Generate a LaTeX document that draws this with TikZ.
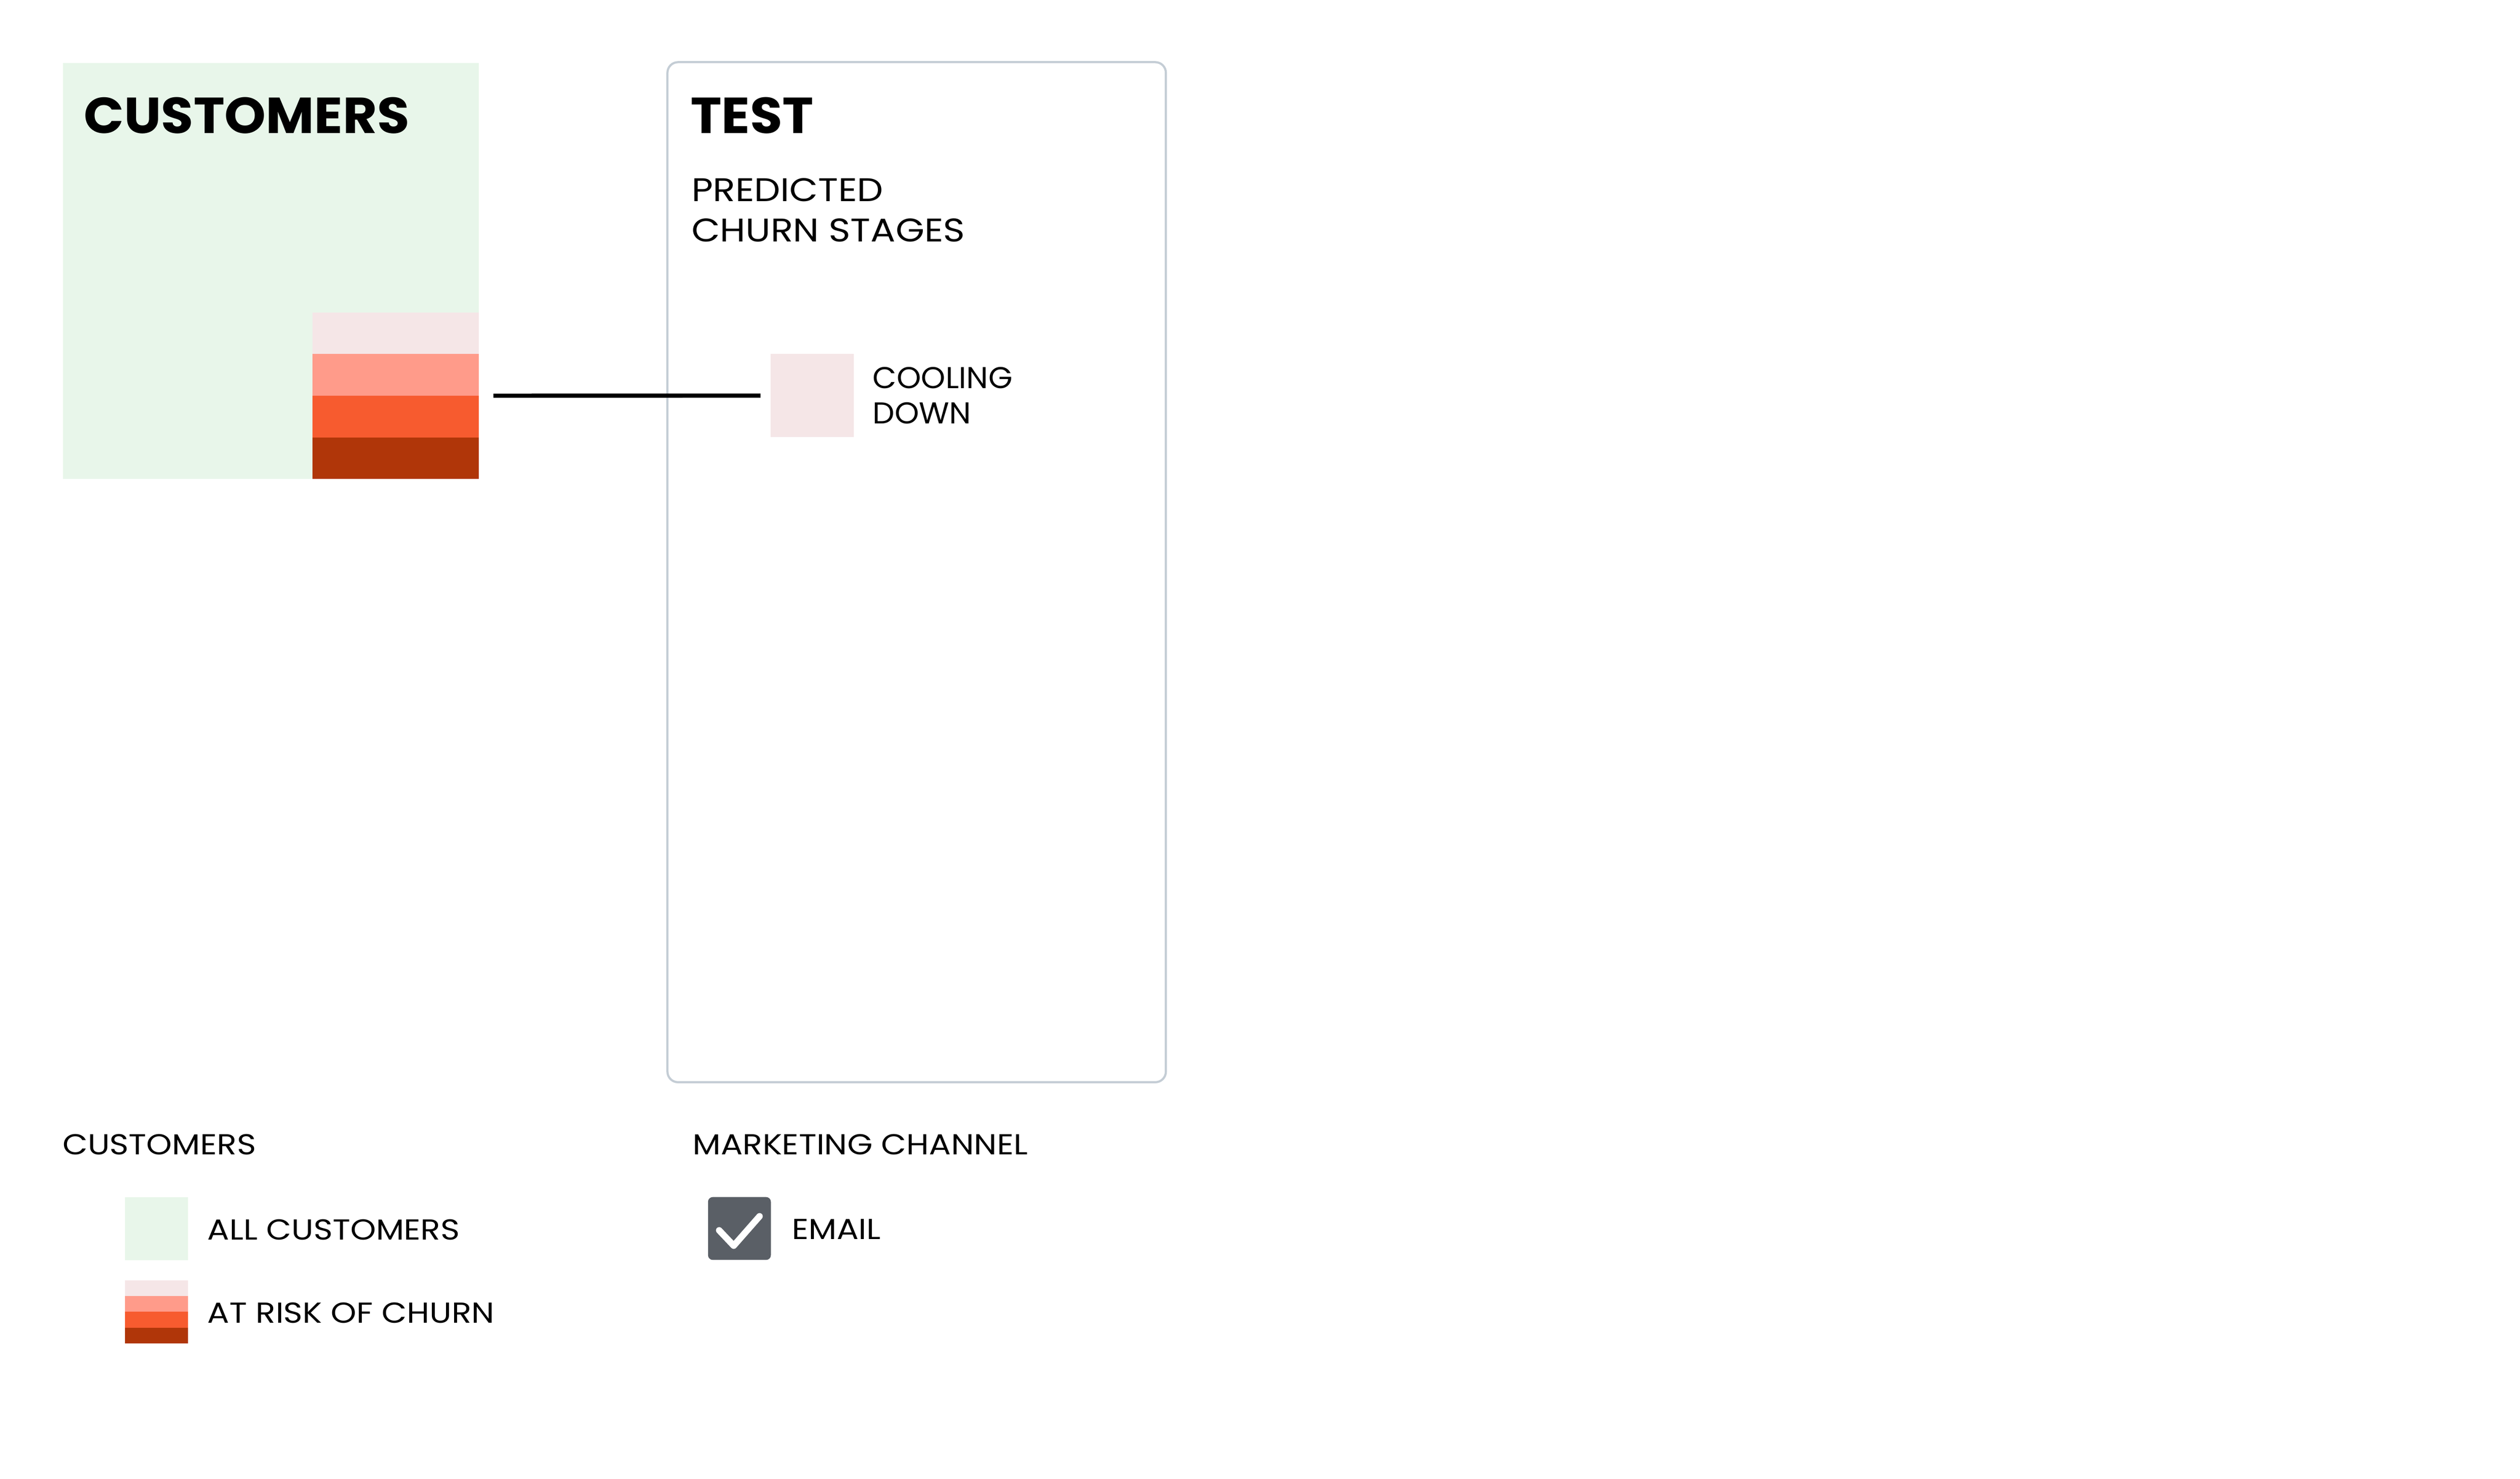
\documentclass[tikz,border=0pt]{standalone}
\usepackage{fontspec}
\setmainfont{Poppins}[FakeStretch=1.13]
\newfontfamily\headfont{Poppins}[FakeStretch=1.04]
\newfontfamily\stagefont{Poppins}[FakeStretch=1.03]
\usetikzlibrary{positioning}

\definecolor{allgreen}{RGB}{232,246,234}
\definecolor{riskA}{RGB}{245,230,231}
\definecolor{riskB}{RGB}{255,155,138}
\definecolor{riskC}{RGB}{247,91,47}
\definecolor{riskD}{RGB}{176,54,9}
\definecolor{panelgray}{RGB}{196,205,213}
\definecolor{boxgray}{RGB}{90,95,102}

\tikzset{every picture/.style={line width=0.75pt}}
\tikzset{
  swatch/.style={draw=none, inner sep=0pt, outer sep=0pt},
  band/.style={swatch, minimum width=77.4pt, minimum height=19.35pt},
  minib/.style={swatch, minimum width=29.25pt, minimum height=7.3pt},
  title/.style={anchor=base west, inner sep=0pt, font=\headfont\fontsize{23.5}{28}\selectfont\bfseries},
  sub/.style={anchor=base west, inner sep=0pt, font=\fontsize{15.2}{18}\selectfont},
  stage/.style={anchor=base west, inner sep=0pt, font=\stagefont\fontsize{14}{16.7}\selectfont},
  legend/.style={anchor=base west, inner sep=0pt, font=\fontsize{13.4}{16}\selectfont}
}

\begin{document}
\begin{tikzpicture}[x=0.75pt,y=0.75pt,yscale=-1,xscale=1]
\useasboundingbox (0,0) rectangle (1560,915.3);

%Shape: all customers
\draw (167.75,167.75) node [swatch, fill=allgreen, minimum size=193.1pt] (all) {};
%Shape: at risk stack
\draw (244.9,206.2) node [band, fill=riskA] (risk1) {};
\draw (244.9,232.0) node [band, fill=riskB] (risk2) {};
\draw (244.9,257.8) node [band, fill=riskC] (risk3) {};
\draw (244.9,283.6) node [band, fill=riskD] (risk4) {};

%Shape: test panel
\draw (567.45,354.15) node [draw=panelgray, line width=1pt, rounded corners=4.9pt, minimum width=231.4pt, minimum height=473.5pt, inner sep=0pt] (test) {};
%Shape: cooling down stage
\draw (502.85,244.85) node [swatch, fill=riskA, minimum width=38.5pt, minimum height=38.6pt] (cool) {};

%Straight Lines
\draw [line width=1.95pt, shorten <=6.75pt, shorten >=4.8pt] (risk2.south east) -- (cool.west);

% Text Node
\draw (51.5,82.6) node [title] (custtitle) {CUSTOMERS};
% Text Node
\draw (427,82.6) node [title] (testtitle) {TEST};
% Text Node
\draw (427.6,124.7) node [sub] (pred) {PREDICTED};
% Text Node
\draw (427.6,149.7) node [sub] (stages) {CHURN STAGES};
% Text Node
\draw (539.8,240.5) node [stage] (cooling) {COOLING};
% Text Node
\draw (539.8,262.1) node [stage] (down) {DOWN};

%Legend: customers
\draw (38.3,714.5) node [legend] (custhead) {CUSTOMERS};
\draw (96.9,760.5) node [swatch, fill=allgreen, minimum size=29.25pt] (keyall) {};
\draw (96.9,797.4) node [minib, fill=riskA] (keyrisk1) {};
\draw (96.9,807.1) node [minib, fill=riskB] (keyrisk2) {};
\draw (96.9,816.8) node [minib, fill=riskC] (keyrisk3) {};
\draw (96.9,826.6) node [minib, fill=riskD] (keyrisk4) {};
% Text Node
\draw (128,767.5) node [legend] (allname) {ALL CUSTOMERS};
% Text Node
\draw (128,818.9) node [legend] (riskname) {AT RISK OF CHURN};

%Legend: marketing channel
\draw (428.3,714.5) node [legend] (chanhead) {MARKETING CHANNEL};
\draw (457.75,760.35) node [swatch, fill=boxgray, rounded corners=2.25pt, minimum size=29.2pt] (email) {};
\draw [color=white, line width=3pt, line cap=round, line join=round] (445.2,761.5) -- (454.2,771.0) -- (470.2,752.8) ;
% Text Node
\draw (489.7,767.0) node [legend] (emailname) {EMAIL};

\end{tikzpicture}
\end{document}
